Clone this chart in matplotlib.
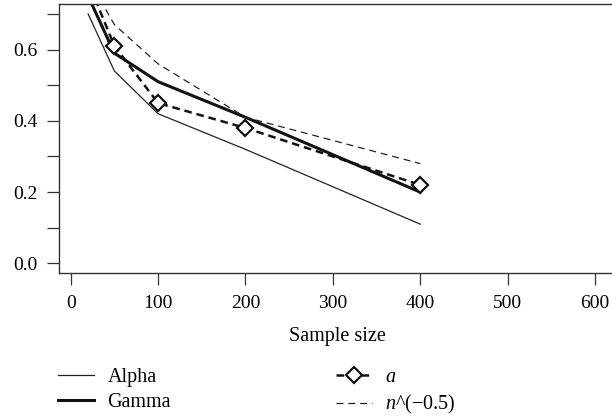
import numpy as np
import matplotlib
matplotlib.use("Agg")
import matplotlib.pyplot as plt
from matplotlib.ticker import FixedLocator

plt.rcParams['font.family'] = ['Liberation Serif', 'DejaVu Serif']
plt.rcParams['mathtext.fontset'] = 'custom'
plt.rcParams['mathtext.rm'] = 'Liberation Serif'
plt.rcParams['mathtext.it'] = 'Liberation Serif:italic'
plt.rcParams['lines.scale_dashes'] = False

# values
sample_size = [20, 50, 100, 200, 400]
alpha_vals = [0.70, 0.54, 0.42, 0.32, 0.11]
gamma_vals = [0.75, 0.59, 0.51, 0.41, 0.20]
a_vals = [0.79, 0.61, 0.45, 0.38, 0.22]
nhalf_vals = [0.80, 0.67, 0.56, 0.41, 0.28]

x_ticks = [0, 100, 200, 300, 400, 500, 600]
y_ticks = [0.0, 0.2, 0.4, 0.6]
y_minor = [0.1, 0.3, 0.5, 0.7]

fig = plt.figure(figsize=(6.12, 4.17), dpi=100)
ax = fig.add_axes([58.8 / 612, 1 - 273.3 / 417, 556.8 / 612, 269.3 / 417])

ax.plot(sample_size, alpha_vals, color='#222222', lw=0.9, label='Alpha')
ax.plot(sample_size, gamma_vals, color='#111111', lw=2.2, label='Gamma')
ax.plot(sample_size, nhalf_vals, color='#222222', lw=0.9,
        ls=(0, (5, 3.5)), label=r'$n$^(−0.5)')
ax.plot(sample_size, a_vals, color='#111111', lw=1.8, ls=(0, (5.5, 3.5)),
        marker='D', markersize=8, markerfacecolor='white',
        markeredgecolor='#111111', markeredgewidth=1.6, label=r'$a$')

ax.set_xlim(-13.6, 623.6)
ax.set_ylim(-0.028, 0.728)

ax.xaxis.set_major_locator(FixedLocator(x_ticks))
ax.yaxis.set_major_locator(FixedLocator(y_ticks))
ax.yaxis.set_minor_locator(FixedLocator(y_minor))
ax.set_yticklabels([f'{v:.1f}' for v in y_ticks])
ax.tick_params(which='both', direction='out', length=8.5, width=0.9,
               color='#333333', labelsize=14, pad=7)

for sp in ax.spines.values():
    sp.set_linewidth(1.0)
    sp.set_color('#333333')

ax.set_xlabel('Sample size', fontsize=14.5, labelpad=11)

handles, labels = ax.get_legend_handles_labels()
order = [0, 1, 3, 2]
fig.legend([handles[i] for i in order], [labels[i] for i in order],
           loc='upper left', bbox_to_anchor=(58 / 612, 1 - 368 / 417),
           ncol=2, frameon=False, borderpad=0, borderaxespad=0,
           handlelength=1.8, handletextpad=0.65, columnspacing=8.2,
           labelspacing=0.3, fontsize=14.5, numpoints=1)

fig.savefig('out.png', dpi=100)
